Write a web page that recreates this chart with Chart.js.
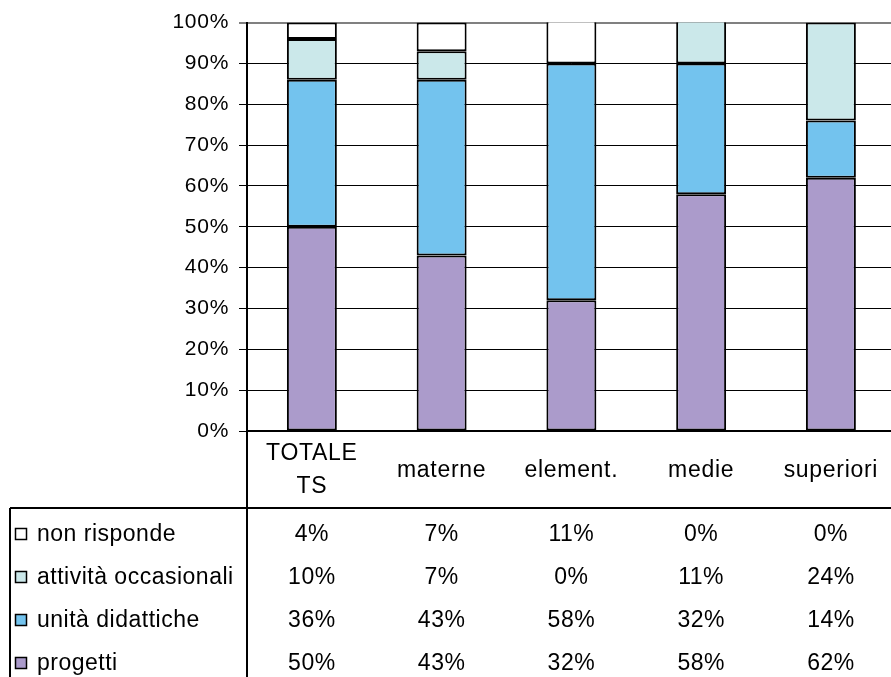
<!DOCTYPE html>
<html>
<head>
<meta charset="utf-8">
<script src="https://cdn.jsdelivr.net/npm/chart.js@4.4.1/dist/chart.umd.min.js"></script>
<style>
  body { margin: 0; background: #fff; overflow: hidden; }
  #wrap { width: 898px; height: 677px; }
</style>
</head>
<body>
<div id="wrap"><canvas id="chart" width="898" height="677"></canvas></div>
<script>
'use strict';

// school levels along the x axis
let categories = [['TOTALE', 'TS'], 'materne', 'element.', 'medie', 'superiori'];

// percentages per series, bottom of the stack first
let progetti = [50, 43, 32, 58, 62];
let unitaDidattiche = [36, 43, 58, 32, 14];
let attivitaOccasionali = [10, 7, 0, 11, 24];
let nonRisponde = [4, 7, 11, 0, 0];

let yTicks = [0, 10, 20, 30, 40, 50, 60, 70, 80, 90, 100];

let fontFamily = '"Liberation Sans", Arial, sans-serif';
let ctx = document.getElementById('chart').getContext('2d');

// slightly loose text spacing for the axis labels
let spacingPlugin = {
  id: 'spacing',
  beforeDraw(chart) {
    chart.ctx.letterSpacing = '0.7px';
  }
};

// data table under the plot: header rule, legend keys and values
let tablePlugin = {
  id: 'dataTable',
  afterDraw(chart) {
    let c = chart.ctx;
    let area = chart.chartArea;
    let xScale = chart.scales.x;
    let headerBottom = area.bottom + 77;

    c.save();
    c.strokeStyle = '#000';
    c.lineWidth = 2;
    c.beginPath();
    c.moveTo(area.left, area.bottom);
    c.lineTo(area.left, chart.height);
    c.moveTo(10, headerBottom);
    c.lineTo(chart.width, headerBottom);
    c.moveTo(10, headerBottom);
    c.lineTo(10, chart.height);
    c.stroke();

    c.font = '23px ' + fontFamily;
    c.letterSpacing = '0.5px';
    c.textBaseline = 'middle';
    let rows = chart.data.datasets.slice().reverse();
    rows.forEach((ds, r) => {
      let y = headerBottom + 26 + r * 43;
      c.fillStyle = ds.backgroundColor;
      c.fillRect(15.5, y - 5.5, 11, 11);
      c.lineWidth = 1.5;
      c.strokeRect(15.5, y - 5.5, 11, 11);
      c.fillStyle = '#000';
      c.textAlign = 'left';
      c.fillText(ds.label, 37, y + 1);
      c.textAlign = 'center';
      ds.data.forEach((v, i) => {
        c.fillText(v + '%', xScale.getPixelForValue(i), y + 1);
      });
    });
    c.restore();
  }
};

function makeSet(label, data, color) {
  return {
    label: label,
    data: data,
    backgroundColor: color,
    borderColor: '#000',
    borderWidth: 2,
    borderSkipped: false,
    barPercentage: 0.385,
    categoryPercentage: 1
  };
}

let chartObject = new Chart(ctx, {
  type: 'bar',
  data: {
    labels: categories,
    datasets: [
      makeSet('progetti', progetti, '#ab9bcb'),
      makeSet('unità didattiche', unitaDidattiche, '#73c3ee'),
      makeSet('attività occasionali', attivitaOccasionali, '#cbe8ea'),
      makeSet('non risponde', nonRisponde, '#ffffff')
    ]
  },
  options: {
    responsive: false,
    animation: false,
    layout: { padding: { top: 13, left: 0, right: 0, bottom: 0 } },
    plugins: {
      legend: { display: false },
      tooltip: { enabled: false }
    },
    scales: {
      x: {
        stacked: true,
        grid: { display: false, drawTicks: false },
        border: { display: true, color: '#000', width: 2 },
        ticks: {
          color: '#000',
          font: { family: fontFamily, size: 23, lineHeight: 1.43 },
          crossAlign: 'center',
          padding: 23,
          maxRotation: 0,
          autoSkip: false
        },
        afterFit(scale) { scale.height = 246; }
      },
      y: {
        stacked: true,
        min: 0,
        max: 100,
        afterBuildTicks(scale) {
          scale.ticks = yTicks.map(v => ({ value: v }));
        },
        grid: {
          color: c => (c.tick && c.tick.value === 100 ? '#808080' : '#000'),
          lineWidth: c => (c.tick && c.tick.value === 100 ? 2 : 1),
          tickLength: 8
        },
        border: { display: true, color: '#000', width: 2 },
        ticks: {
          color: '#000',
          font: { family: fontFamily, size: 21 },
          padding: 10,
          callback: v => v + '%'
        },
        afterFit(scale) { scale.width = 247; }
      }
    }
  },
  plugins: [spacingPlugin, tablePlugin]
});
</script>
</body>
</html>
